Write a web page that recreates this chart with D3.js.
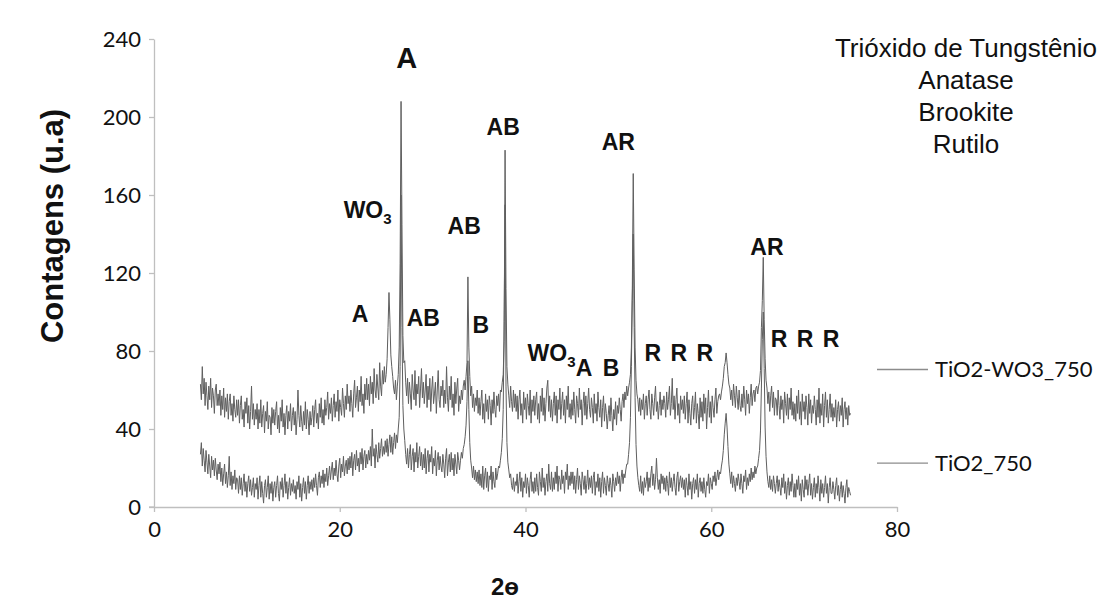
<!DOCTYPE html>
<html>
<head>
<meta charset="utf-8">
<script src="https://cdnjs.cloudflare.com/ajax/libs/d3/7.8.5/d3.min.js"></script>
<style>
  body { margin: 0; background: #fff; }
  svg { display: block; }
</style>
</head>
<body>
<div id="chart"></div>
<script>
// scan grid: 2-theta from 5 to 75 degrees, 0.1 step
var thetaStart = 5;
var thetaStep = 0.1;

// TiO2-WO3_750 counts, one row = 2 degrees
var tiWo3 = [
  63, 55, 72, 58, 66, 52, 64, 57, 50, 62, 55, 66, 51, 61, 57, 48, 60, 63, 52, 58,
  52, 60, 47, 57, 50, 61, 46, 56, 49, 58, 45, 54, 58, 47, 53, 44, 57, 50, 46, 55,
  47, 55, 43, 52, 57, 45, 50, 41, 54, 48, 56, 43, 52, 40, 49, 62, 45, 53, 42, 50,
  45, 53, 40, 50, 43, 55, 41, 48, 52, 38, 49, 44, 54, 40, 47, 46, 37, 51, 43, 50,
  42, 49, 54, 40, 47, 38, 51, 44, 55, 41, 48, 37, 47, 52, 40, 49, 44, 53, 39, 47,
  51, 42, 49, 37, 45, 60, 47, 41, 52, 44, 39, 49, 42, 54, 40, 50, 45, 37, 49, 42,
  46, 52, 41, 50, 55, 43, 48, 40, 53, 46, 56, 43, 50, 42, 55, 47, 51, 59, 45, 53,
  48, 56, 44, 52, 58, 46, 54, 49, 60, 44, 55, 51, 47, 61, 53, 46, 57, 50, 63, 53,
  57, 49, 60, 53, 46, 58, 65, 51, 56, 62, 49, 60, 54, 67, 52, 58, 48, 63, 55, 66,
  55, 63, 52, 67, 58, 64, 53, 71, 60, 56, 68, 61, 55, 74, 62, 57, 70, 63, 72, 64,
  68, 76, 92, 110, 96, 78, 72, 67, 61, 58, 65, 55, 62, 68, 82, 125, 208, 145, 88, 74,
  75, 64, 57, 66, 53, 64, 58, 50, 68, 60, 55, 70, 52, 63, 58, 67, 51, 61, 71, 56,
  64, 53, 60, 68, 51, 62, 55, 66, 49, 60, 67, 53, 58, 64, 48, 60, 70, 55, 51, 62,
  57, 65, 51, 60, 53, 72, 56, 49, 62, 55, 67, 51, 58, 47, 64, 53, 61, 66, 49, 57,
  53, 60, 55, 62, 65, 60, 67, 74, 118, 82, 67, 57, 62, 51, 58, 49, 56, 52, 60, 48,
  56, 47, 54, 60, 45, 53, 43, 58, 49, 55, 45, 57, 52, 42, 55, 48, 59, 50, 46, 57,
  52, 58, 49, 60, 59, 64, 68, 85, 183, 112, 72, 63, 57, 51, 62, 54, 49, 60, 51, 58,
  49, 57, 45, 55, 60, 47, 53, 43, 59, 50, 56, 45, 58, 52, 47, 60, 43, 55, 49, 57,
  47, 55, 59, 45, 53, 43, 57, 49, 61, 47, 56, 44, 53, 61, 65, 49, 57, 46, 55, 44,
  53, 59, 47, 57, 43, 55, 50, 61, 45, 53, 59, 47, 55, 43, 57, 50, 62, 46, 53, 45,
  55, 47, 59, 50, 43, 57, 53, 46, 61, 50, 55, 42, 53, 59, 47, 57, 45, 53, 61, 50,
  46, 56, 51, 43, 58, 48, 53, 44, 59, 51, 46, 55, 41, 51, 57, 44, 53, 48, 40, 47,
  52, 44, 56, 47, 39, 50, 45, 54, 42, 52, 48, 56, 50, 44, 54, 58, 51, 59, 55, 62,
  57, 61, 64, 68, 82, 112, 171, 122, 82, 65, 58, 55, 49, 56, 47, 55, 50, 58, 45, 53,
  57, 47, 55, 60, 50, 45, 58, 53, 47, 56, 62, 49, 54, 45, 52, 59, 47, 55, 50, 57,
  53, 46, 59, 50, 55, 62, 47, 53, 66, 50, 57, 45, 55, 61, 47, 53, 43, 57, 50, 55,
  48, 57, 45, 53, 59, 43, 55, 48, 42, 53, 57, 45, 51, 59, 43, 53, 48, 40, 56, 46,
  54, 44, 58, 48, 56, 40, 51, 60, 46, 54, 43, 57, 51, 46, 55, 61, 48, 54, 57, 58,
  55, 59, 62, 66, 72, 74, 79, 74, 68, 63, 61, 55, 60, 52, 63, 57, 51, 62, 56, 50,
  60, 52, 49, 58, 51, 62, 55, 47, 60, 53, 58, 48, 56, 63, 52, 58, 60, 54, 61, 62,
  58, 62, 64, 70, 92, 106, 128, 96, 76, 65, 61, 53, 59, 49, 57, 62, 51, 59, 47, 56,
  55, 47, 60, 52, 45, 57, 50, 55, 43, 59, 53, 47, 58, 45, 56, 50, 61, 47, 54, 45,
  53, 44, 57, 48, 60, 45, 54, 42, 58, 49, 54, 45, 57, 51, 42, 58, 48, 55, 43, 52,
  48, 57, 50, 42, 55, 46, 61, 43, 53, 47, 58, 41, 52, 59, 46, 55, 43, 50, 58, 46,
  53, 44, 51, 46, 55, 41, 50, 54, 44, 52, 47, 56, 41, 50, 54, 45, 51, 42, 52, 47,
  48
];

// TiO2_750 counts
var tiO2 = [
  27, 33, 21, 30, 24, 18, 29, 23, 17, 27, 21, 15, 26, 19, 24, 16, 25, 19, 14, 22,
  17, 23, 13, 20, 11, 17, 22, 12, 18, 10, 16, 26, 11, 18, 9, 16, 12, 19, 9, 15,
  14, 7, 16, 9, 15, 6, 12, 17, 8, 13, 5, 12, 16, 8, 14, 6, 10, 15, 5, 12,
  9, 15, 4, 11, 16, 5, 13, 7, 2, 11, 14, 5, 10, 16, 4, 12, 7, 13, 3, 10,
  13, 5, 11, 16, 7, 3, 13, 9, 15, 5, 11, 17, 7, 13, 4, 10, 15, 6, 12, 8,
  14, 7, 11, 4, 13, 9, 16, 5, 12, 3, 10, 15, 7, 13, 4, 11, 16, 7, 13, 9,
  14, 8, 15, 10, 17, 11, 6, 15, 18, 10, 16, 12, 19, 10, 17, 13, 20, 11, 16, 21,
  14, 19, 23, 14, 20, 16, 24, 17, 13, 21, 25, 15, 22, 18, 26, 16, 21, 24, 17, 25,
  19, 26, 20, 28, 16, 24, 27, 19, 29, 21, 25, 18, 28, 22, 30, 19, 26, 29, 20, 27,
  22, 29, 24, 31, 21, 40, 26, 30, 20, 32, 27, 23, 33, 25, 30, 35, 26, 31, 27, 34,
  28, 35, 26, 32, 37, 28, 36, 27, 33, 38, 30, 37, 33, 40, 46, 72, 160, 92, 52, 40,
  34, 27, 22, 30, 20, 27, 32, 19, 26, 30, 18, 28, 23, 33, 20, 26, 31, 21, 28, 19,
  27, 20, 30, 17, 25, 29, 18, 27, 23, 31, 17, 25, 21, 29, 16, 24, 28, 19, 26, 21,
  18, 27, 22, 15, 25, 30, 16, 23, 27, 18, 28, 19, 25, 16, 27, 22, 17, 28, 24, 19,
  24, 28, 25, 30, 32, 36, 42, 54, 75, 50, 33, 24, 20, 15, 21, 14, 19, 13, 18, 12,
  19, 11, 17, 10, 21, 9, 16, 20, 10, 18, 8, 16, 14, 21, 9, 18, 13, 10, 20, 14,
  17, 21, 20, 24, 28, 35, 50, 95, 155, 62, 33, 23, 19, 15, 17, 11, 9, 15, 8, 13,
  11, 17, 7, 13, 18, 8, 15, 5, 13, 10, 17, 7, 15, 11, 5, 14, 18, 8, 13, 7,
  15, 8, 17, 10, 6, 18, 13, 8, 20, 10, 15, 6, 13, 17, 8, 22, 12, 9, 18, 8,
  15, 9, 18, 12, 21, 8, 16, 14, 9, 19, 12, 16, 7, 18, 14, 22, 9, 16, 11, 18,
  12, 18, 9, 16, 7, 14, 20, 9, 16, 12, 6, 18, 14, 9, 16, 7, 12, 19, 9, 15,
  10, 16, 7, 15, 18, 6, 13, 10, 17, 8, 15, 5, 13, 18, 7, 15, 11, 6, 16, 12,
  8, 15, 11, 5, 17, 13, 8, 15, 11, 18, 12, 16, 8, 15, 19, 12, 17, 15, 19, 22,
  22, 27, 33, 46, 72, 106, 140, 92, 56, 32, 21, 15, 11, 8, 16, 7, 13, 6, 15, 10,
  13, 18, 8, 15, 10, 17, 21, 11, 17, 9, 14, 25, 15, 9, 14, 7, 17, 12, 16, 9,
  15, 8, 16, 12, 6, 18, 10, 15, 8, 13, 17, 10, 6, 15, 18, 8, 13, 16, 10, 15,
  9, 14, 5, 15, 11, 6, 17, 9, 13, 4, 12, 15, 7, 14, 9, 17, 5, 12, 15, 8,
  13, 7, 15, 9, 5, 13, 11, 17, 7, 15, 12, 9, 16, 13, 18, 11, 15, 19, 14, 18,
  17, 21, 24, 29, 37, 43, 48, 41, 31, 22, 17, 12, 18, 10, 16, 12, 8, 15, 11, 17,
  13, 9, 17, 12, 7, 16, 13, 19, 9, 15, 11, 17, 13, 20, 14, 18, 15, 21, 17, 20,
  21, 25, 29, 39, 61, 86, 100, 71, 41, 26, 18, 13, 10, 16, 9, 14, 8, 16, 12, 7,
  12, 16, 8, 14, 10, 6, 15, 10, 17, 7, 13, 4, 11, 15, 6, 13, 8, 17, 11, 5,
  12, 5, 14, 9, 16, 6, 12, 3, 14, 9, 5, 16, 9, 14, 6, 12, 17, 6, 12, 4,
  10, 15, 5, 12, 7, 16, 10, 3, 14, 7, 12, 5, 10, 16, 7, 12, 2, 10, 15, 7,
  7, 13, 9, 4, 11, 15, 6, 11, 3, 9, 13, 5, 11, 7, 2, 10, 14, 5, 10, 8,
  6
];

var seriesNames = ['TiO2-WO3_750', 'TiO2_750'];
var xTicks = [0, 20, 40, 60, 80];
var yTicks = [0, 40, 80, 120, 160, 200, 240];
var phaseNames = ['Trióxido de Tungstênio', 'Anatase', 'Brookite', 'Rutilo'];

// peak labels: [2theta, counts, text, subscript]
var peakLabels = [
  [27.2, 225, 'A', ''],
  [23.0, 148, 'WO', '3'],
  [22.2, 95, 'A', ''],
  [29.0, 93, 'AB', ''],
  [33.4, 140, 'AB', ''],
  [35.2, 89, 'B', ''],
  [37.6, 191, 'AB', ''],
  [50.0, 183, 'AR', ''],
  [42.8, 75, 'WO', '3'],
  [46.3, 67, 'A', ''],
  [49.2, 67, 'B', ''],
  [53.7, 75, 'R', ''],
  [56.5, 75, 'R', ''],
  [59.3, 75, 'R', ''],
  [66.0, 129, 'AR', ''],
  [67.3, 82, 'R', ''],
  [70.1, 82, 'R', ''],
  [72.9, 82, 'R', '']
];

var width = 1104;
var height = 599;
var margin = { top: 39, right: 207, bottom: 92, left: 154 };

var svg = d3.select('#chart')
  .append('svg')
  .attr('width', width)
  .attr('height', height);

var x = d3.scaleLinear().domain([0, 80]).range([margin.left, width - margin.right]);
var y = d3.scaleLinear().domain([0, 240]).range([height - margin.bottom, margin.top]);

var axisColor = '#bfbfbf';
var tickFont = 'Lato, "Open Sans", sans-serif';
var boldFont = '"Liberation Sans", Arial, sans-serif';

var yAxis = svg.append('g')
  .attr('transform', 'translate(' + x(0) + ',0)')
  .call(d3.axisLeft(y).tickValues(yTicks).tickSize(5).tickSizeOuter(0).tickPadding(8));
var xAxis = svg.append('g')
  .attr('transform', 'translate(0,' + y(0) + ')')
  .call(d3.axisBottom(x).tickValues(xTicks).tickSize(5).tickSizeOuter(0).tickPadding(9));

[xAxis, yAxis].forEach(function(ax) {
  ax.select('.domain').attr('stroke', axisColor).attr('stroke-width', 1.3);
  ax.selectAll('.tick line').attr('stroke', axisColor).attr('stroke-width', 1.3);
  ax.selectAll('.tick text')
    .attr('fill', '#111')
    .style('font-family', tickFont)
    .style('font-size', '22px');
});

svg.append('line')
  .attr('x1', x(0) - 5).attr('x2', x(0))
  .attr('y1', y(0)).attr('y2', y(0))
  .attr('stroke', axisColor).attr('stroke-width', 1.3);

function toPoints(values) {
  return values.map(function(v, i) {
    return { t: thetaStart + i * thetaStep, v: v };
  });
}

var line = d3.line()
  .x(function(d) { return x(d.t); })
  .y(function(d) { return y(d.v); });

[tiO2, tiWo3].forEach(function(values) {
  svg.append('path')
    .datum(toPoints(values))
    .attr('d', line)
    .attr('fill', 'none')
    .attr('stroke', '#5f5f5f')
    .attr('stroke-width', 1);
});

// peak labels
var labels = svg.selectAll('.peak')
  .data(peakLabels)
  .enter().append('text')
  .attr('class', 'peak')
  .attr('x', function(d) { return x(d[0]); })
  .attr('y', function(d) { return y(d[1]); })
  .attr('text-anchor', 'middle')
  .style('font-family', boldFont)
  .style('font-weight', 'bold')
  .style('font-size', function(d, i) { return i === 0 ? '29px' : '23px'; })
  .attr('fill', '#111');

labels.append('tspan').text(function(d) { return d[2]; });
labels.filter(function(d) { return d[3]; })
  .append('tspan')
  .attr('dy', 6)
  .style('font-size', '15px')
  .text(function(d) { return d[3]; });

// phase list, top right
svg.selectAll('.phase')
  .data(phaseNames)
  .enter().append('text')
  .attr('class', 'phase')
  .attr('x', 966)
  .attr('y', function(d, i) { return 57 + i * 32; })
  .attr('text-anchor', 'middle')
  .style('font-family', boldFont)
  .style('font-size', '26px')
  .attr('fill', '#111')
  .text(function(d) { return d; });

// legend
var legendY = [y(70.5), y(22.5)];
var legend = svg.selectAll('.legend')
  .data(seriesNames)
  .enter().append('g')
  .attr('class', 'legend')
  .attr('transform', function(d, i) { return 'translate(877,' + legendY[i] + ')'; });
legend.append('line')
  .attr('x1', 0).attr('x2', 51)
  .attr('stroke', '#8c8c8c').attr('stroke-width', 1.3);
legend.append('text')
  .attr('x', 58)
  .attr('dy', '0.35em')
  .style('font-family', tickFont)
  .style('font-size', '22px')
  .attr('fill', '#111')
  .text(function(d) { return d; });

// axis titles
svg.append('text')
  .attr('transform', 'translate(63,226) rotate(-90)')
  .attr('text-anchor', 'middle')
  .style('font-family', boldFont)
  .style('font-weight', 'bold')
  .style('font-size', '31px')
  .attr('fill', '#111')
  .text('Contagens (u.a)');

svg.append('text')
  .attr('x', 505)
  .attr('y', 595)
  .attr('text-anchor', 'middle')
  .style('font-family', boldFont)
  .style('font-weight', 'bold')
  .style('font-size', '24px')
  .attr('fill', '#111')
  .text('2ө');
</script>
</body>
</html>
